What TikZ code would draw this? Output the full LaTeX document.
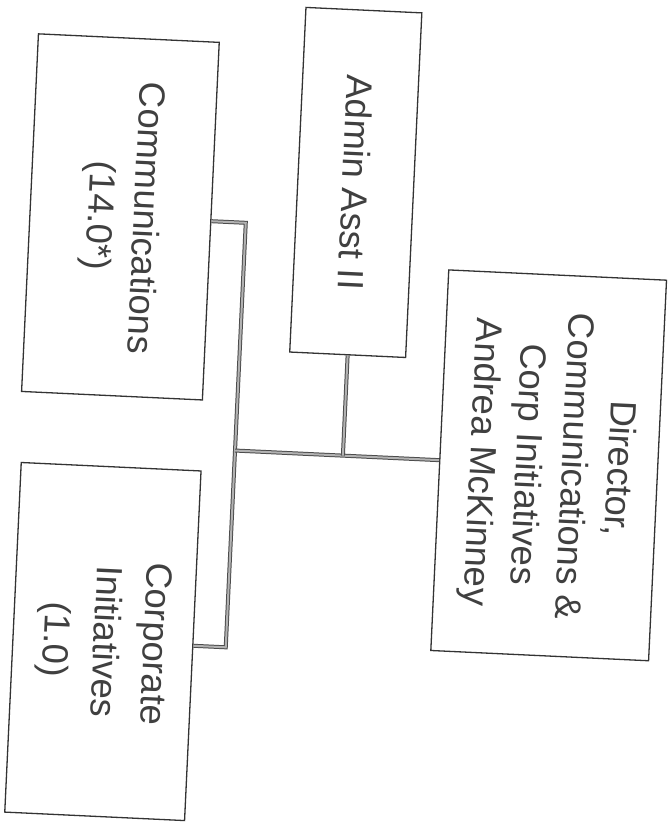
\documentclass[tikz,border=0pt]{standalone}
\usepackage{fontspec}
\setmainfont{Liberation Sans}
\begin{document}
\begin{tikzpicture}[x=1pt,y=1pt,
  orgbox/.style={draw=black!80, line width=1.3pt, fill=white, inner sep=0pt,
    text=black!75, align=center, font=\fontsize{36.5}{46}\selectfont},
  conn/.style={draw=black!70, line width=1pt, double=gray!60, double distance=2pt, line join=miter}]
\fill[white] (0,0) rectangle (671,-823);
\useasboundingbox (0,0) rectangle (671,-823);
\begin{scope}[rotate=-92.7, transform shape]
  \coordinate (c1) at (211,256);
  \coordinate (c2) at (636,256);
  \coordinate (d1) at (439,256);
  \coordinate (a1) at (439,364);
  \node[orgbox, minimum width=358pt, minimum height=181pt] (comm) at (211,130.5) {Communications\\(14.0*)};
  \node[orgbox, minimum width=350pt, minimum height=180pt, font=\fontsize{36.5}{50}\selectfont] (corp) at (636,133) {Corporate\\Initiatives\\(1.0)};
  \node[orgbox, minimum width=345pt, minimum height=116pt] (admin) at (165.5,364) {Admin Asst II};
  \node[orgbox, minimum width=381pt, minimum height=218pt] (dir) at (439,570) {Director,\\Communications \&\\Corp Initiatives\\Andrea McKinney};
  \draw[conn] (comm.north) -- (c1) -- (c2) -- (corp.north);
  \draw[conn] (d1) -- (dir.south);
  \draw[conn] (admin.east) -- (a1);
\end{scope}
\end{tikzpicture}
\end{document}
